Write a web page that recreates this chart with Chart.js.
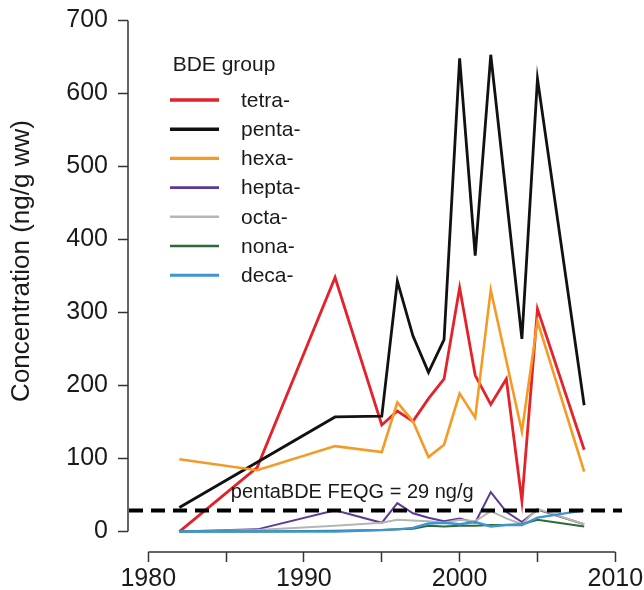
<!DOCTYPE html>
<html><head><meta charset="utf-8">
<script src="https://cdn.jsdelivr.net/npm/chart.js@4/dist/chart.umd.min.js"></script>
<style>html,body{margin:0;padding:0;background:#fff}#wrap{width:644px;height:590px}</style>
</head><body><div id="wrap"><canvas id="c" width="644" height="590"></canvas></div>
<script>
// ---- data ----
const years = [1982, 1987, 1992, 1995, 1996, 1997, 1998, 1999, 2000, 2001, 2002, 2003, 2004, 2005, 2008];
const tetra = [0, 88, 348, 146, 165, 151, 182, 209, 334, 214, 174, 209, 42, 305, 112];
const penta = [33, null, 157, 158, 343, 268, 218, 263, 648, 378, 653, null, 264, 620, 173];
const hexa  = [99, 84, 117, 109, 177, 151, 102, 119, 189, 156, 331, null, 137, 288, 82];
const hepta = [0, 3, 29, 12, 39, 25, 19, 14, 18, 12, 54, 27, 13, 30, 10];
const octa  = [0, 2, 8, 12, 16, 15, 14, 12, 16, 14, 28, 18, 10, 31, 10];
const nona  = [0, 0, 1, 2, 3, 4, 8, 7, 8, 8, 9, 9, 10, 16, 7];
const deca  = [0, 0, 0, 2, 3, 5, 11, 12, 10, 13, 7, 9, 9, 19, 29];
const seriesNames = ['tetra-', 'penta-', 'hexa-', 'hepta-', 'octa-', 'nona-', 'deca-'];
const seriesValues = [tetra, penta, hexa, hepta, octa, nona, deca];
const yTickValues = [0, 100, 200, 300, 400, 500, 600, 700];
const xTickValues = [1980, 1985, 1990, 1995, 2000, 2005, 2010];
const xTickLabels = ['1980', '', '1990', '', '2000', '', '2010'];
const feqgValue = 29;
const feqgLabel = 'pentaBDE FEQG = 29 ng/g';
const legendTitle = 'BDE group';
const yTitle = 'Concentration (ng/g ww)';

// ---- styles ----
const colors = ['#e5222a', '#111111', '#f59b25', '#5b3a96', '#b5b5b5', '#2e6a37', '#3f95d2'];
const widths = [2.8, 2.8, 2.6, 2, 2, 2, 2.4];
const FONT = '"Liberation Sans", Arial, Helvetica, sans-serif';
const TEXT = '#1a1a1a';

const datasets = seriesNames.map((name, i) => ({
  label: name,
  data: years.map((yr, j) => ({ x: yr, y: seriesValues[i][j] })),
  borderColor: colors[i],
  backgroundColor: colors[i],
  borderWidth: widths[i],
  pointRadius: 0,
  tension: 0,
  spanGaps: true,
  fill: false,
  order: 7 - i
}));

const decor = {
  id: 'decor',
  afterDatasetsDraw(chart) {
    const ctx = chart.ctx, x = chart.scales.x, y = chart.scales.y, a = chart.chartArea;
    ctx.save();
    // dashed guideline
    ctx.strokeStyle = '#000';
    ctx.lineWidth = 4;
    ctx.setLineDash([14, 8]);
    ctx.beginPath();
    const yd = y.getPixelForValue(feqgValue);
    ctx.moveTo(a.left + 1, yd);
    ctx.lineTo(a.right - 12, yd);
    ctx.stroke();
    ctx.setLineDash([]);
    // label
    ctx.fillStyle = TEXT;
    ctx.font = '20px ' + FONT;
    ctx.textAlign = 'left';
    ctx.textBaseline = 'middle';
    ctx.fillText(feqgLabel, x.getPixelForValue(1985.3), y.getPixelForValue(53));
    // axis lines
    ctx.strokeStyle = '#333';
    ctx.lineWidth = 1.5;
    ctx.beginPath();
    ctx.moveTo(a.left, y.getPixelForValue(yTickValues[0]));
    ctx.lineTo(a.left, y.getPixelForValue(yTickValues[yTickValues.length - 1]));
    ctx.moveTo(x.getPixelForValue(xTickValues[0]), a.bottom);
    ctx.lineTo(x.getPixelForValue(xTickValues[xTickValues.length - 1]), a.bottom);
    ctx.stroke();
    // y title
    ctx.save();
    ctx.translate(22, 261);
    ctx.rotate(-Math.PI / 2);
    ctx.textAlign = 'center';
    ctx.textBaseline = 'middle';
    ctx.font = '26px ' + FONT;
    ctx.fillStyle = TEXT;
    ctx.fillText(yTitle, 0, 0);
    ctx.restore();
    // legend
    ctx.font = '21px ' + FONT;
    ctx.fillStyle = TEXT;
    ctx.textAlign = 'center';
    ctx.fillText(legendTitle, 224, 65);
    ctx.textAlign = 'left';
    chart.data.datasets.forEach((ds, i) => {
      const ly = 100 + i * 29.2;
      ctx.strokeStyle = ds.borderColor;
      ctx.lineWidth = ds.borderWidth + 0.6;
      ctx.beginPath();
      ctx.moveTo(170, ly);
      ctx.lineTo(219, ly);
      ctx.stroke();
      ctx.fillStyle = TEXT;
      ctx.fillText(ds.label, 241, ly + 1);
    });
    ctx.restore();
  }
};

new Chart(document.getElementById('c'), {
  type: 'line',
  data: { datasets },
  plugins: [decor],
  options: {
    responsive: false,
    devicePixelRatio: 1,
    animation: false,
    layout: { padding: { left: 0, right: 10, top: 0, bottom: 0 } },
    plugins: { legend: { display: false }, tooltip: { enabled: false } },
    scales: {
      x: {
        type: 'linear',
        min: 1978.7,
        max: 2011.2,
        afterBuildTicks: s => { s.ticks = xTickValues.map(v => ({ value: v })); },
        afterFit: s => { s.height = 38; s.paddingLeft = 0; s.paddingRight = 0; },
        ticks: {
          autoSkip: false, maxRotation: 0, padding: 2, color: TEXT,
          font: { size: 25, family: FONT },
          callback: (v) => { const k = xTickValues.indexOf(v); return k >= 0 ? xTickLabels[k] : ''; }
        },
        grid: { display: true, drawOnChartArea: false, drawTicks: true, tickLength: 10, tickWidth: 1.5, tickColor: '#333' },
        border: { display: false }
      },
      y: {
        min: -28,
        max: 728,
        afterBuildTicks: s => { s.ticks = yTickValues.map(v => ({ value: v })); },
        afterFit: s => { s.width = 128; s.paddingTop = 0; s.paddingBottom = 0; },
        ticks: {
          autoSkip: false, padding: 10, color: TEXT,
          font: { size: 25, family: FONT },
          callback: v => String(v)
        },
        grid: { display: true, drawOnChartArea: false, drawTicks: true, tickLength: 10, tickWidth: 1.5, tickColor: '#333' },
        border: { display: false }
      }
    }
  }
});
</script>
</body></html>
